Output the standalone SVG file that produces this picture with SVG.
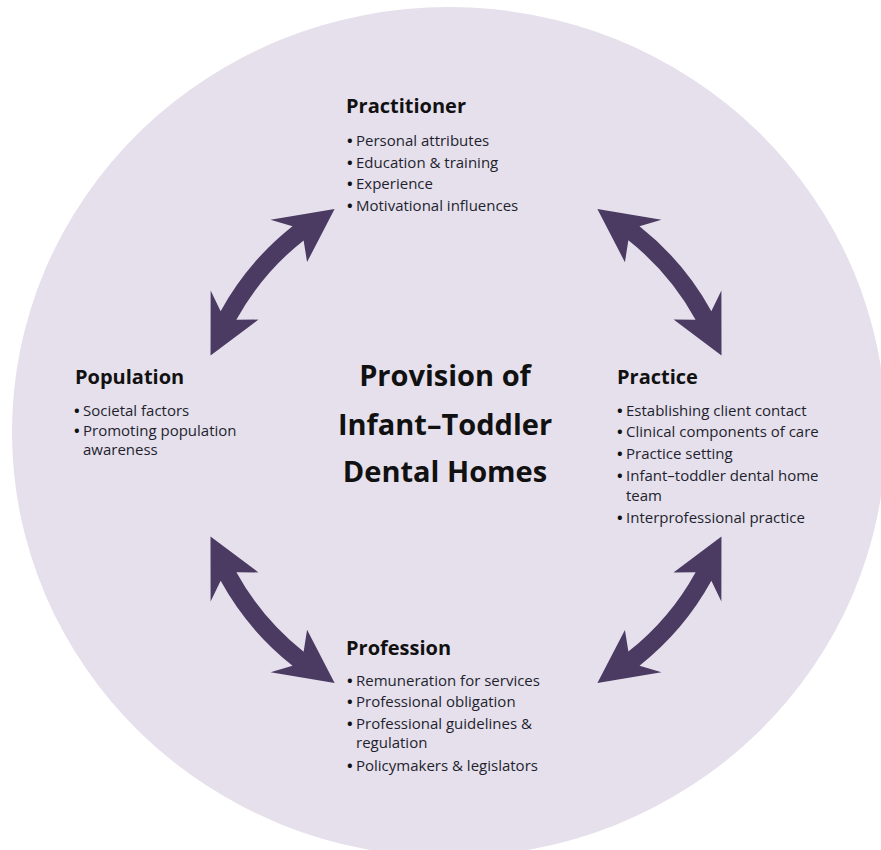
<svg xmlns="http://www.w3.org/2000/svg" xmlns:xlink="http://www.w3.org/1999/xlink" width="881" height="850" viewBox="0 0 881 850">
  <style>
    .title { font-family: "Open Sans", "Noto Sans", sans-serif; font-weight: 700; font-size: 20px; fill: #111111; }
    .item { font-family: "Open Sans", "Noto Sans", sans-serif; font-size: 15px; fill: #1f1f2e; }
    .dot { font-family: "Open Sans", "Noto Sans", sans-serif; font-size: 15px; font-weight: 700; fill: #111111; }
    .center { font-family: "Open Sans", "Noto Sans", sans-serif; font-weight: 700; font-size: 29px; fill: #111111; text-anchor: middle; }
    .arrow { fill: #4b3a62; }
  </style>
  <defs>
    <path id="dblArrow" d="M 271,0 L 292.6,61.3 L 276.3,45.2 A 280 280 0 0 1 236.9,149.2 L 259.8,148.0 L 203.0,179.6 L 211.2,120.3 L 221.7,139.6 A 262 262 0 0 0 258.6,42.3 L 237.8,49.9 Z"/>
  </defs>
  <rect x="0" y="0" width="881" height="850" fill="#ffffff"/>
  <ellipse id="background-circle" cx="449" cy="432" rx="437" ry="425" fill="#e5e0ec"/>

  <g id="connectors">
    <use xlink:href="#dblArrow" href="#dblArrow" class="arrow" transform="translate(466,446) rotate(-160.5)"/>
    <use xlink:href="#dblArrow" href="#dblArrow" class="arrow" transform="translate(466,446) rotate(-61)"/>
    <use xlink:href="#dblArrow" href="#dblArrow" class="arrow" transform="translate(466,446) rotate(19.5)"/>
    <use xlink:href="#dblArrow" href="#dblArrow" class="arrow" transform="translate(466,446) rotate(119)"/>
  </g>

  <g id="node-center">
    <text class="center" x="445" y="386">Provision of</text>
    <text class="center" x="445" y="435">Infant–Toddler</text>
    <text class="center" x="445" y="482">Dental Homes</text>
  </g>

  <g id="node-practitioner">
    <text class="title" x="346" y="113">Practitioner</text>
    <text class="dot" x="347" y="146">•</text><text class="item" x="356" y="146">Personal attributes</text>
    <text class="dot" x="347" y="167.5">•</text><text class="item" x="356" y="167.5">Education &amp; training</text>
    <text class="dot" x="347" y="189">•</text><text class="item" x="356" y="189">Experience</text>
    <text class="dot" x="347" y="210.5">•</text><text class="item" x="356" y="210.5">Motivational influences</text>
  </g>

  <g id="node-population">
    <text class="title" x="75" y="384">Population</text>
    <text class="dot" x="74" y="416">•</text><text class="item" x="83" y="416">Societal factors</text>
    <text class="dot" x="74" y="436">•</text><text class="item" x="83" y="436">Promoting population</text>
    <text class="item" x="83" y="455">awareness</text>
  </g>

  <g id="node-practice">
    <text class="title" x="617" y="384">Practice</text>
    <text class="dot" x="617" y="416">•</text><text class="item" x="626" y="416">Establishing client contact</text>
    <text class="dot" x="617" y="437">•</text><text class="item" x="626" y="437">Clinical components of care</text>
    <text class="dot" x="617" y="459">•</text><text class="item" x="626" y="459">Practice setting</text>
    <text class="dot" x="617" y="481">•</text><text class="item" x="626" y="481">Infant–toddler dental home</text>
    <text class="item" x="626" y="501">team</text>
    <text class="dot" x="617" y="523">•</text><text class="item" x="626" y="523">Interprofessional practice</text>
  </g>

  <g id="node-profession">
    <text class="title" x="346" y="655">Profession</text>
    <text class="dot" x="347" y="686">•</text><text class="item" x="356" y="686">Remuneration for services</text>
    <text class="dot" x="347" y="707">•</text><text class="item" x="356" y="707">Professional obligation</text>
    <text class="dot" x="347" y="729">•</text><text class="item" x="356" y="729">Professional guidelines &amp;</text>
    <text class="item" x="356" y="748">regulation</text>
    <text class="dot" x="347" y="771">•</text><text class="item" x="356" y="771">Policymakers &amp; legislators</text>
  </g>
</svg>
